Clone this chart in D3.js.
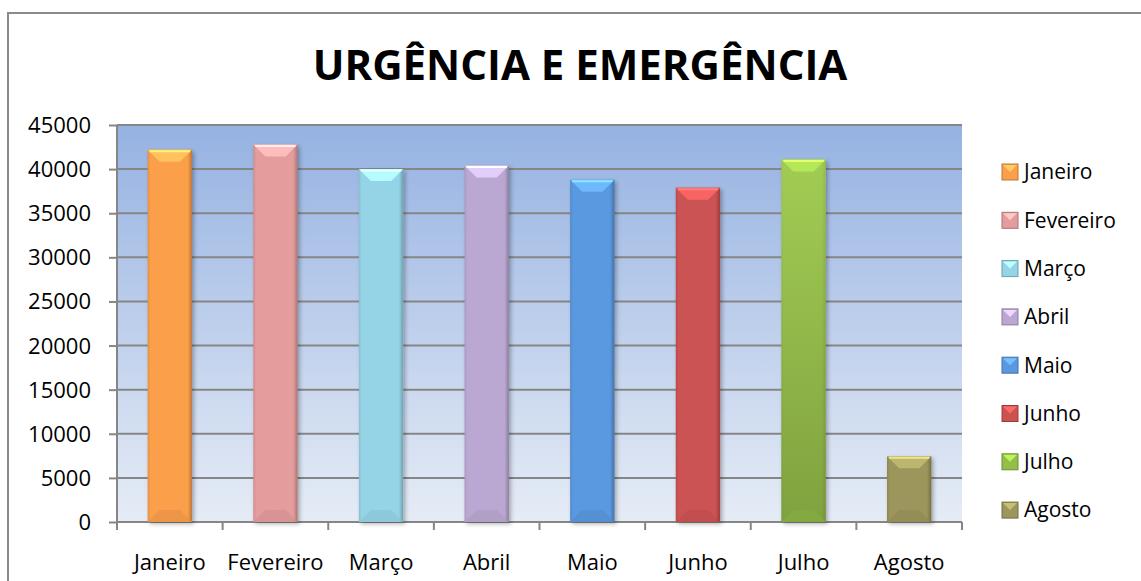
<!DOCTYPE html>
<html><head><meta charset="utf-8">
<script src="https://cdn.jsdelivr.net/npm/d3@7"></script>
<style>body{margin:0;background:#fff}svg{display:block}</style>
</head><body>
<svg id="c" width="1141" height="581"></svg>
<script>
const categories = ["Janeiro","Fevereiro","Março","Abril","Maio","Junho","Julho","Agosto"];
const values = [42200, 42800, 40000, 40400, 38800, 37900, 41100, 7450];
const yTicks = [0,5000,10000,15000,20000,25000,30000,35000,40000,45000];
const colors = ["#FB9F4C","#E49C9C","#95D4E6","#BBA8D2","#5A98DF","#CC5252","#93BE48","#9C955C"];
const title = "URGÊNCIA E EMERGÊNCIA";

const svg = d3.select("#c");
const defs = svg.append("defs");
const font = "'Open Sans', sans-serif";

// frame
svg.append("path").attr("d","M8,581 L8,13 L1141,13").attr("fill","none").attr("stroke","#8a8a8a").attr("stroke-width",2);

const m = {l:117, r:962, t:125, b:522};
const x = d3.scaleBand().domain(categories).range([m.l, m.r]).paddingInner(0.58).paddingOuter(0.29);
const y = d3.scaleLinear().domain([0,45000]).range([m.b, m.t]);

const bg = defs.append("linearGradient").attr("id","bg").attr("x1",0).attr("y1",0).attr("x2",0).attr("y2",1);
bg.append("stop").attr("offset","0").attr("stop-color","#95B2E2");
bg.append("stop").attr("offset","1").attr("stop-color","#E6ECF6");
svg.append("rect").attr("x",m.l).attr("y",m.t).attr("width",m.r-m.l).attr("height",m.b-m.t).attr("fill","url(#bg)");

// grid
svg.append("g").selectAll("line").data(yTicks.filter(d=>d>0)).join("line")
  .attr("x1",m.l).attr("x2",m.r).attr("y1",d=>y(d)).attr("y2",d=>y(d))
  .attr("stroke","#868686").attr("stroke-width",2);

// y axis
const ya = svg.append("g").attr("transform",`translate(${m.l},0)`)
  .call(d3.axisLeft(y).tickValues(yTicks).tickSize(8).tickPadding(18).tickFormat(d3.format("d")));
ya.select(".domain").attr("stroke","#868686").attr("stroke-width",2).attr("d",`M0,${m.t}V${m.b}`);
ya.selectAll(".tick line").attr("stroke","#868686").attr("stroke-width",2);
ya.selectAll("text").attr("font-family",font).attr("font-size",22).attr("fill","#000").attr("dy","0.34em");

// x axis
const xa = svg.append("g").attr("transform",`translate(0,${m.b})`)
  .call(d3.axisBottom(x).tickSize(0).tickPadding(32));
xa.select(".domain").attr("stroke","#868686").attr("stroke-width",2).attr("d",`M${m.l},0H${m.r}`);
xa.selectAll("text").attr("font-family",font).attr("font-size",22).attr("fill","#000");
const bounds = d3.range(categories.length+1).map(i=>m.l + (m.r-m.l)*i/categories.length);
xa.append("g").selectAll("line").data(bounds).join("line")
  .attr("x1",d=>d).attr("x2",d=>d).attr("y1",0).attr("y2",8)
  .attr("stroke","#868686").attr("stroke-width",2);

// bar gradients
categories.forEach((c,i)=>{
  const col = d3.color(colors[i]);
  const g = defs.append("linearGradient").attr("id","bar"+i).attr("x1",0).attr("y1",0).attr("x2",1).attr("y2",0);
  g.append("stop").attr("offset","0").attr("stop-color",col.darker(0.3));
  g.append("stop").attr("offset","0.06").attr("stop-color",col);
  g.append("stop").attr("offset","0.9").attr("stop-color",col);
  g.append("stop").attr("offset","1").attr("stop-color",col.darker(0.8));
  if (i===6){
    const gv = defs.append("linearGradient").attr("id","barv6").attr("x1",0).attr("y1",0).attr("x2",0).attr("y2",1);
    gv.append("stop").attr("offset","0").attr("stop-color","#A9D45A");
    gv.append("stop").attr("offset","1").attr("stop-color","#76933A");
  }
});
const sh = defs.append("filter").attr("id","sh").attr("x","-20%").attr("y","-20%").attr("width","150%").attr("height","150%");
sh.append("feDropShadow").attr("dx",2).attr("dy",2).attr("stdDeviation",2).attr("flood-color","#000").attr("flood-opacity",0.3);

const bars = svg.append("g").selectAll("g").data(categories).join("g");
bars.append("rect")
  .attr("x",d=>x(d)).attr("width",x.bandwidth())
  .attr("y",(d,i)=>y(values[i])).attr("height",(d,i)=>y(0)-y(values[i]))
  .attr("fill",(d,i)=> i===6 ? "url(#barv6)" : "url(#bar"+i+")")
  .attr("filter","url(#sh)");
bars.filter((d,i)=>i===6).append("rect")
  .attr("x",d=>x(d)).attr("width",x.bandwidth())
  .attr("y",y(values[6])).attr("height",y(0)-y(values[6]))
  .attr("fill","url(#bar6)").attr("opacity",0.35);
// top bevel
const bv = 12;
bars.append("path")
  .attr("d",(d,i)=>{const x0=x(d),x1=x0+x.bandwidth(),t=y(values[i]);
    return `M${x0},${t}L${x1},${t}L${x1-bv},${t+bv}L${x0+bv},${t+bv}Z`;})
  .attr("fill",(d,i)=>d3.color(colors[i]).brighter(0.6)).attr("opacity",0.9);
bars.append("line")
  .attr("x1",d=>x(d)+2).attr("x2",d=>x(d)+x.bandwidth()-2)
  .attr("y1",(d,i)=>y(values[i])+1.5).attr("y2",(d,i)=>y(values[i])+1.5)
  .attr("stroke",(d,i)=>d3.color(colors[i]).brighter(1.2)).attr("stroke-width",2);
// bottom bevel
bars.append("path")
  .attr("d",(d,i)=>{const x0=x(d),x1=x0+x.bandwidth(),b=y(0);
    return `M${x0},${b}L${x1},${b}L${x1-bv},${b-bv}L${x0+bv},${b-bv}Z`;})
  .attr("fill",(d,i)=>d3.color(colors[i]).darker(0.25)).attr("opacity",0.6);

// title
svg.append("text").attr("x",580).attr("y",80).attr("text-anchor","middle")
  .attr("font-family",font).attr("font-weight","bold").attr("font-size",42).attr("fill","#000").text(title);

// legend
const lg = svg.append("g").selectAll("g").data(categories).join("g")
  .attr("transform",(d,i)=>`translate(1002,${172 + i*48.3})`);
lg.append("rect").attr("x",0).attr("y",-8).attr("width",16).attr("height",16)
  .attr("fill",(d,i)=>colors[i]).attr("stroke",(d,i)=>d3.color(colors[i]).darker(0.8)).attr("stroke-width",1);
lg.append("path").attr("d","M1,-7L15,-7L8,0Z").attr("fill",(d,i)=>d3.color(colors[i]).brighter(0.7));
lg.append("text").attr("x",22).attr("y",0).attr("dy","0.35em")
  .attr("font-family",font).attr("font-size",21).attr("fill","#000").text(d=>d);
</script>
</body></html>
